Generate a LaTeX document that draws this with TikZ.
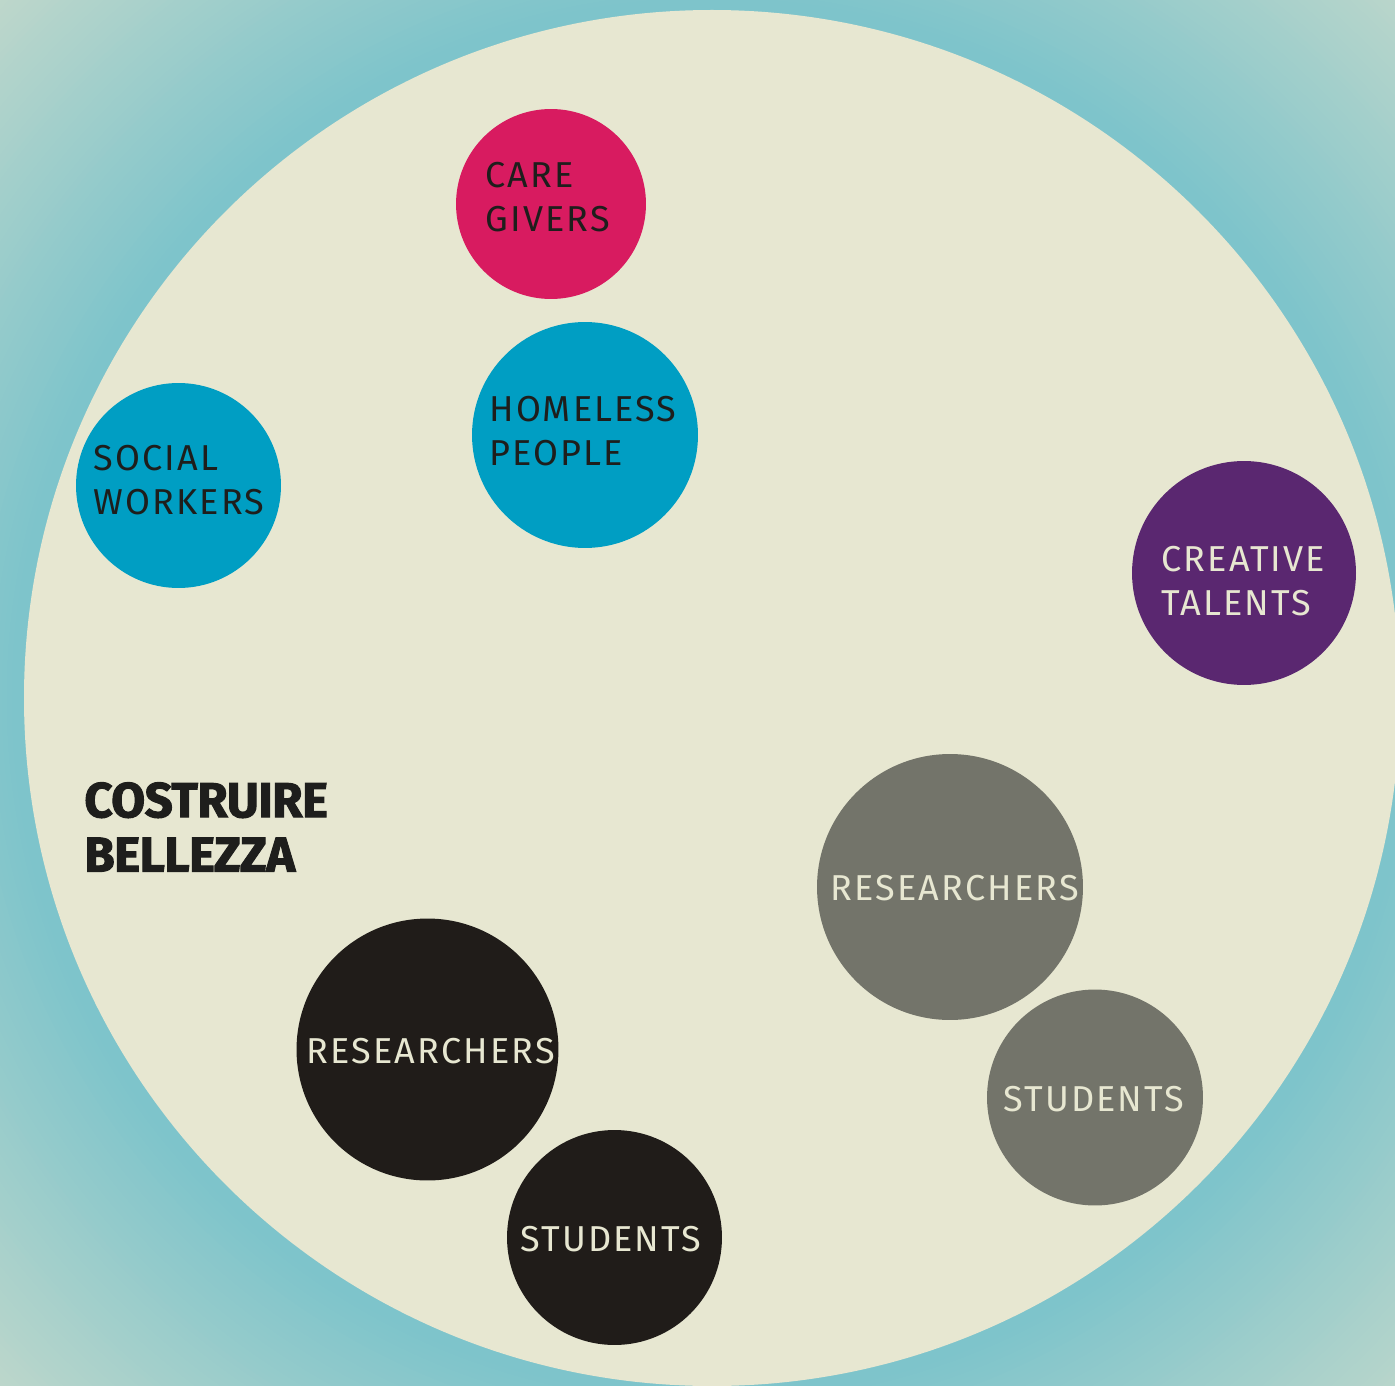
\documentclass[tikz,border=0pt]{standalone}
\usepackage{fontspec}
\setmainfont{Fira Sans}[LetterSpace=6]
\newfontfamily\titlefont{Fira Sans}[LetterSpace=-1,FakeBold=2]
\definecolor{bgteal}{HTML}{7EC4CB}
\definecolor{bgpale}{HTML}{BED7CB}
\definecolor{paper}{HTML}{E7E7D1}
\definecolor{pinkc}{HTML}{D81B60}
\definecolor{bluec}{HTML}{009EC3}
\definecolor{purplec}{HTML}{5A2770}
\definecolor{grayc}{HTML}{73746A}
\definecolor{blackc}{HTML}{201C19}
\definecolor{ink}{HTML}{1E1E1C}

\begin{document}
\begin{tikzpicture}[x=0.02cm,y=-0.02cm]
\tikzstyle{group}=[circle,inner sep=0pt]
\tikzstyle{darklabel}=[anchor=west,align=left,inner sep=0pt,text=ink,font=\fontsize{20.5}{25.5}\selectfont]
\tikzstyle{lightlabel}=[darklabel,text=paper]
\useasboundingbox (0,0) rectangle (1395,1385);
\clip (0,0) rectangle (1395,1385);
% background glow
\foreach \i in {0,...,60}{
  \pgfmathsetmacro{\p}{100*\i/60}
  \fill[bgteal!\p!bgpale] (712,698) circle ({1000-5*\i});
}
\fill[paper] (712,698) circle (688);
% groups
\node[group,fill=pinkc,minimum size=3.8cm] (g0) at (551,204) {};
\node[group,fill=bluec,minimum size=4.52cm] (g1) at (585,435) {};
\node[group,fill=bluec,minimum size=4.1cm] (g2) at (178.5,485.5) {};
\node[group,fill=purplec,minimum size=4.48cm] (g3) at (1244,573) {};
\node[group,fill=grayc,minimum size=5.32cm] (g4) at (950,887) {};
\node[group,fill=grayc,minimum size=4.32cm] (g5) at (1095,1097.5) {};
\node[group,fill=blackc,minimum size=5.24cm] (g6) at (427.5,1049.5) {};
\node[group,fill=blackc,minimum size=4.3cm] (g7) at (614.5,1237.5) {};
% labels
\node[darklabel] (l0) at (485,197) {CARE\\GIVERS};
\node[darklabel] (l1) at (489,431) {HOMELESS\\PEOPLE};
\node[darklabel] (l2) at (93,480) {SOCIAL\\WORKERS};
\node[lightlabel] (l3) at (1161,581) {CREATIVE\\TALENTS};
\node[lightlabel] (l4) at (830,888) {RESEARCHERS};
\node[lightlabel] (l5) at (1003,1099) {STUDENTS};
\node[lightlabel] (l6) at (306,1051) {RESEARCHERS};
\node[lightlabel] (l7) at (520,1239) {STUDENTS};
\node[anchor=west,align=left,inner sep=0pt,text=ink,font=\titlefont\bfseries\fontsize{28}{31}\selectfont] (title) at (84,827) {COSTRUIRE\\BELLEZZA};
\end{tikzpicture}
\end{document}
